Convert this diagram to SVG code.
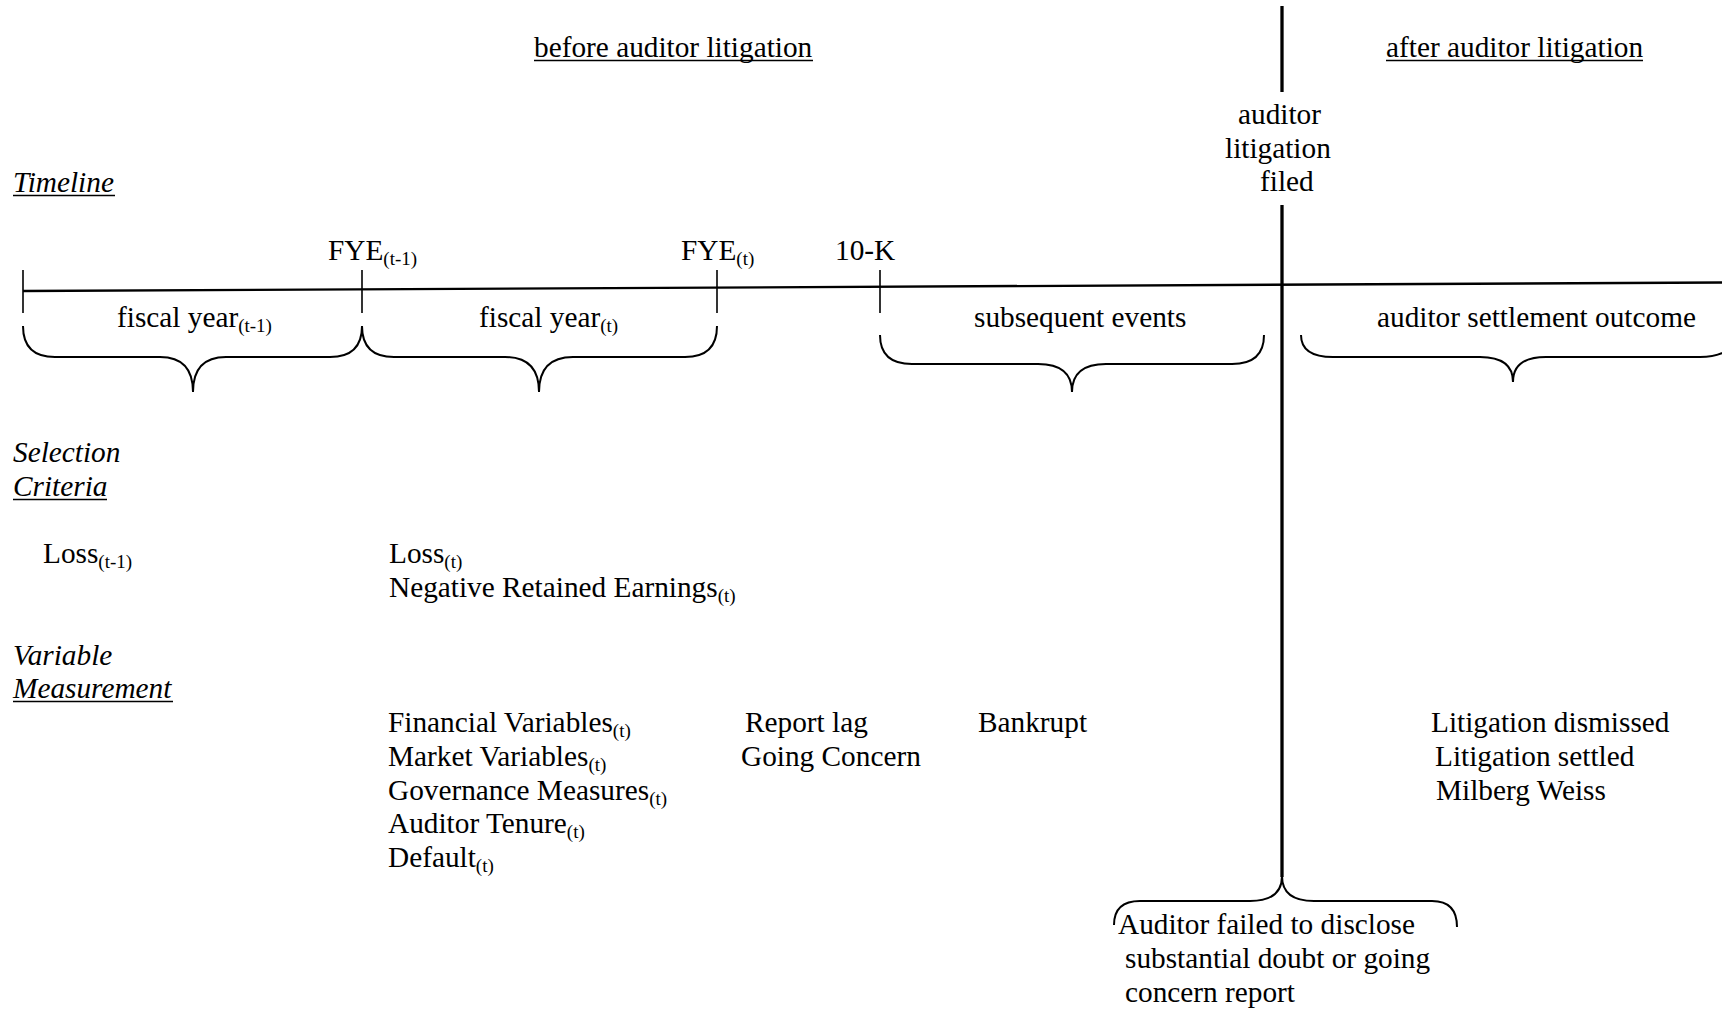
<svg xmlns="http://www.w3.org/2000/svg" width="1722" height="1009" viewBox="0 0 1722 1009">
<style>
text{font-family:"Liberation Serif","Times New Roman",serif;font-size:29.3px;fill:#000}
.it{font-style:italic}
.sub{font-size:19px}
.brace{fill:none;stroke:#000;stroke-width:2}
.tick{stroke:#000;stroke-width:1.6}
.uline{stroke:#000;stroke-width:1.6}
</style>
<rect width="1722" height="1009" fill="#fff"/>
<g id="connectors">
<line id="timeline" x1="23" y1="291" x2="1722" y2="282.5" stroke="#000" stroke-width="2.3"/>
<line class="tick" x1="23" y1="270" x2="23" y2="313"/>
<line class="tick" x1="362" y1="270" x2="362" y2="313"/>
<line class="tick" x1="717" y1="270" x2="717" y2="313"/>
<line class="tick" x1="880" y1="270" x2="880" y2="313"/>
<line x1="1282" y1="6" x2="1282" y2="92" stroke="#000" stroke-width="3.3"/>
<line x1="1282" y1="205" x2="1282" y2="877" stroke="#000" stroke-width="3.3"/>
<path class="brace" d="M23,326 Q23,357 55,357 L160,357 Q193,357 193,392 Q193,357 226,357 L330,357 Q362,357 362,326"/>
<path class="brace" d="M362,326 Q362,357 394,357 L505,357 Q539,357 539,392 Q539,357 573,357 L685,357 Q717,357 717,326"/>
<path class="brace" d="M880,335 Q880,364 912,364 L1038,364 Q1072,364 1072,392 Q1072,364 1106,364 L1232,364 Q1264,364 1264,335"/>
<path class="brace" d="M1301,335 Q1301,357 1333,357 L1480,357 Q1513,357 1513,382 Q1513,357 1546,357 L1700,357 Q1735,357 1740,330"/>
<path class="brace" d="M1114,925 Q1114,901 1140,901 L1250,901 Q1282,901 1282,876 Q1282,901 1314,901 L1432,901 Q1457,901 1457,927"/>
</g>
<g id="headers">
<text x="534" y="57">before auditor litigation</text>
<line class="uline" x1="534" y1="60.5" x2="813" y2="60.5"/>
<text x="1386" y="57">after auditor litigation</text>
<line class="uline" x1="1386" y1="60.5" x2="1643" y2="60.5"/>
</g>
<g id="litigation-filed">
<text x="1238" y="124">auditor</text>
<text x="1225" y="158">litigation</text>
<text x="1260" y="191">filed</text>
</g>
<g id="section-labels">
<text class="it" x="13" y="192">Timeline</text>
<line class="uline" x1="13" y1="195.5" x2="115" y2="195.5"/>
<text class="it" x="13" y="462">Selection</text>
<text class="it" x="13" y="496">Criteria</text>
<line class="uline" x1="13" y1="499.5" x2="107" y2="499.5"/>
<text class="it" x="13" y="665">Variable</text>
<text class="it" x="13" y="698">Measurement</text>
<line class="uline" x1="13" y1="701.5" x2="173" y2="701.5"/>
</g>
<g id="timeline-labels">
<text x="328" y="260">FYE<tspan class="sub" dy="5">(t-1)</tspan></text>
<text x="681" y="260">FYE<tspan class="sub" dy="5">(t)</tspan></text>
<text x="835" y="260">10-K</text>
<text x="117" y="327">fiscal year<tspan class="sub" dy="5">(t-1)</tspan></text>
<text x="479" y="327">fiscal year<tspan class="sub" dy="5">(t)</tspan></text>
<text x="974" y="327">subsequent events</text>
<text x="1377" y="327">auditor settlement outcome</text>
</g>
<g id="selection-criteria">
<text x="43" y="563">Loss<tspan class="sub" dy="5">(t-1)</tspan></text>
<text x="389" y="563">Loss<tspan class="sub" dy="5">(t)</tspan></text>
<text x="389" y="597">Negative Retained Earnings<tspan class="sub" dy="5">(t)</tspan></text>
</g>
<g id="variables-t">
<text x="388" y="732">Financial Variables<tspan class="sub" dy="5">(t)</tspan></text>
<text x="388" y="766">Market Variables<tspan class="sub" dy="5">(t)</tspan></text>
<text x="388" y="800">Governance Measures<tspan class="sub" dy="5">(t)</tspan></text>
<text x="388" y="833">Auditor Tenure<tspan class="sub" dy="5">(t)</tspan></text>
<text x="388" y="867">Default<tspan class="sub" dy="5">(t)</tspan></text>
</g>
<g id="variables-10k">
<text x="745" y="732">Report lag</text>
<text x="741" y="766">Going Concern</text>
</g>
<g id="variables-subsequent">
<text x="978" y="732">Bankrupt</text>
</g>
<g id="variables-after">
<text x="1431" y="732">Litigation dismissed</text>
<text x="1435" y="766">Litigation settled</text>
<text x="1436" y="800">Milberg Weiss</text>
</g>
<g id="failure-note">
<text x="1118" y="934">Auditor failed to disclose</text>
<text x="1125" y="968">substantial doubt or going</text>
<text x="1125" y="1002">concern report</text>
</g>
</svg>
